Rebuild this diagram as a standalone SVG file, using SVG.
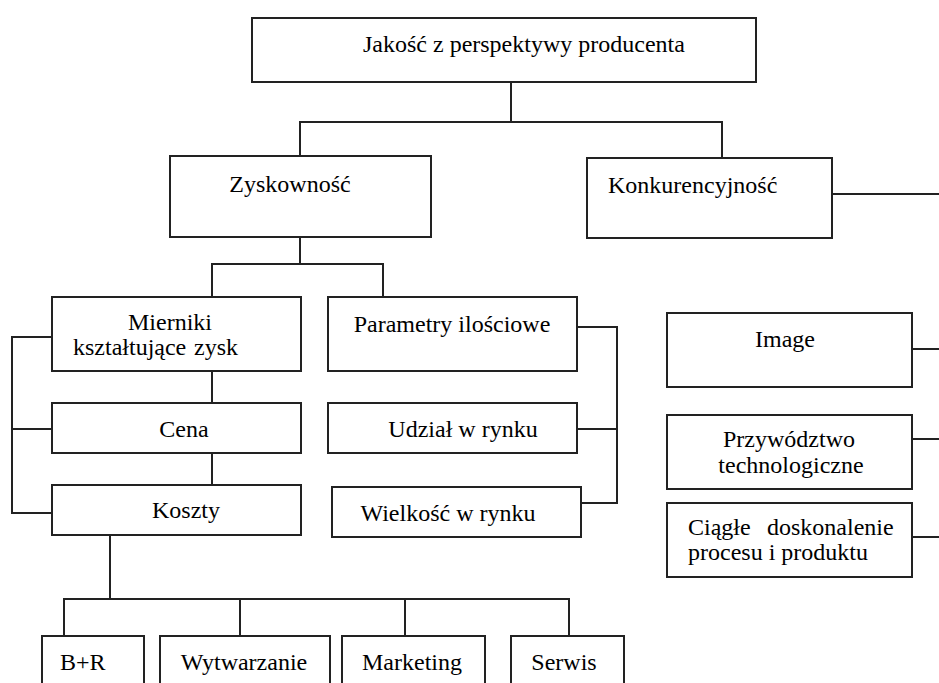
<svg xmlns="http://www.w3.org/2000/svg" width="939" height="683" viewBox="0 0 939 683">
<style>
.box{fill:#fff;stroke:#222;stroke-width:2}
.c{fill:none;stroke:#222;stroke-width:2}
text{font-family:"Liberation Serif","Times New Roman",serif;font-size:24px;fill:#000}
.m{text-anchor:middle}
</style>
<rect width="939" height="683" fill="#fff"/>
<g id="connectors">
<path class="c" d="M511,82V122M300,156V122H722V158"/>
<path class="c" d="M832,194H939"/>
<path class="c" d="M300,237V264M212,297V264H383V297"/>
<path class="c" d="M212,371V403M212,453V485"/>
<path class="c" d="M52,337H12V513H52M12,429H52"/>
<path class="c" d="M577,327H617V503H581M577,429H617"/>
<path class="c" d="M912,349H939M912,439H939M912,537H939"/>
<path class="c" d="M110,535V599M64,636V599H569V636M240,599V636M405,599V636"/>
</g>
<g id="n-jakosc"><rect class="box" x="252" y="18" width="504" height="64"/><text x="363" y="52">Jakość z perspektywy producenta</text></g>
<g id="n-zyskownosc"><rect class="box" x="170" y="156" width="261" height="81"/><text class="m" x="290" y="192">Zyskowność</text></g>
<g id="n-konkurencyjnosc"><rect class="box" x="587" y="158" width="245" height="80"/><text x="608" y="193">Konkurencyjność</text></g>
<g id="n-mierniki"><rect class="box" x="52" y="297" width="249" height="74"/><text class="m" x="170" y="330">Mierniki</text><text y="355"><tspan x="73">kształtujące</tspan><tspan x="194">zysk</tspan></text></g>
<g id="n-cena"><rect class="box" x="52" y="403" width="249" height="50"/><text class="m" x="184" y="437">Cena</text></g>
<g id="n-koszty"><rect class="box" x="52" y="485" width="249" height="50"/><text class="m" x="186" y="518">Koszty</text></g>
<g id="n-parametry"><rect class="box" x="328" y="297" width="249" height="74"/><text class="m" x="452" y="332">Parametry ilościowe</text></g>
<g id="n-udzial"><rect class="box" x="328" y="403" width="249" height="50"/><text class="m" x="463" y="437">Udział w rynku</text></g>
<g id="n-wielkosc"><rect class="box" x="332" y="487" width="249" height="50"/><text class="m" x="448" y="521">Wielkość w rynku</text></g>
<g id="n-image"><rect class="box" x="667" y="313" width="245" height="74"/><text class="m" x="785" y="347">Image</text></g>
<g id="n-przywodztwo"><rect class="box" x="667" y="415" width="245" height="74"/><text class="m" x="789" y="447">Przywództwo</text><text class="m" x="791" y="473">technologiczne</text></g>
<g id="n-ciagle"><rect class="box" x="667" y="503" width="245" height="74"/><text y="535"><tspan x="688">Ciągłe</tspan><tspan x="767">doskonalenie</tspan></text><text x="688" y="560">procesu i produktu</text></g>
<g id="n-br"><rect class="box" x="42" y="636" width="102" height="60"/><text x="60" y="670">B+R</text></g>
<g id="n-wytwarzanie"><rect class="box" x="160" y="636" width="170" height="60"/><text class="m" x="244" y="670">Wytwarzanie</text></g>
<g id="n-marketing"><rect class="box" x="342" y="636" width="143" height="60"/><text class="m" x="412" y="670">Marketing</text></g>
<g id="n-serwis"><rect class="box" x="511" y="636" width="113" height="60"/><text class="m" x="564" y="670">Serwis</text></g>
</svg>
